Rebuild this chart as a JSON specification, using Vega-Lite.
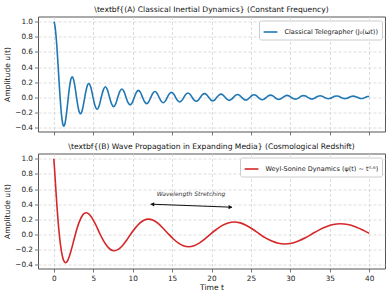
{
  "$schema": "https://vega.github.io/schema/vega-lite/v6.json",
  "padding": {"left": 3, "top": 4.5, "right": 0, "bottom": 0},
  "spacing": 5,
  "config": {
    "font": "DejaVu Sans",
    "view": {"stroke": "#555555", "strokeWidth": 1},
    "axis": {
      "domain": false,
      "tickColor": "#555555",
      "tickSize": 3.5,
      "tickWidth": 0.8,
      "labelFontSize": 7.3,
      "labelColor": "#222222",
      "labelPadding": 2,
      "titleFontSize": 7.6,
      "titleFontWeight": "normal",
      "titleColor": "#111111",
      "gridColor": "#d4d4d4",
      "gridDash": [3, 2],
      "gridWidth": 0.8
    },
    "title": {"fontSize": 7.6, "fontWeight": "normal", "color": "#111111", "offset": 3, "anchor": "middle"},
    "legend": {
      "orient": "top-right",
      "offset": 3.5,
      "padding": 3.5,
      "strokeColor": "#cccccc",
      "fillColor": "#ffffff",
      "cornerRadius": 2,
      "labelFontSize": 6.5,
      "labelColor": "#222222",
      "symbolType": "stroke",
      "symbolSize": 190,
      "symbolStrokeWidth": 1.6,
      "labelOffset": 6
    }
  },
  "resolve": {"scale": {"color": "independent"}, "legend": {"color": "independent"}},
  "datasets": {
    "classical": [
      {"t": 0, "u": 1.0}, {"t": 0.083, "u": 0.981}, {"t": 0.167, "u": 0.932}, {"t": 0.333, "u": 0.755},
      {"t": 0.5, "u": 0.502}, {"t": 0.667, "u": 0.218}, {"t": 0.802, "u": 0}, {"t": 0.917, "u": -0.158},
      {"t": 1.0, "u": -0.25}, {"t": 1.083, "u": -0.318}, {"t": 1.167, "u": -0.363}, {"t": 1.277, "u": -0.383},
      {"t": 1.417, "u": -0.349}, {"t": 1.5, "u": -0.302}, {"t": 1.667, "u": -0.166}, {"t": 1.84, "u": 0},
      {"t": 2.0, "u": 0.139}, {"t": 2.167, "u": 0.239}, {"t": 2.339, "u": 0.273}, {"t": 2.5, "u": 0.241},
      {"t": 2.667, "u": 0.154}, {"t": 2.885, "u": 0}, {"t": 3.0, "u": -0.08}, {"t": 3.167, "u": -0.171},
      {"t": 3.391, "u": -0.218}, {"t": 3.5, "u": -0.206}, {"t": 3.667, "u": -0.148}, {"t": 3.833, "u": -0.058},
      {"t": 3.931, "u": 0}, {"t": 4.0, "u": 0.041}, {"t": 4.167, "u": 0.124}, {"t": 4.333, "u": 0.174},
      {"t": 4.441, "u": 0.183}, {"t": 4.5, "u": 0.18}, {"t": 4.667, "u": 0.142}, {"t": 4.833, "u": 0.072},
      {"t": 4.977, "u": 0},
      {"t": 5.234, "u": -0.1117}, {"t": 5.49, "u": -0.158}, {"t": 5.757, "u": -0.1117}, {"t": 6.024, "u": 0},
      {"t": 6.282, "u": 0.0983}, {"t": 6.539, "u": 0.139}, {"t": 6.805, "u": 0.0983}, {"t": 7.071, "u": 0},
      {"t": 7.329, "u": -0.087}, {"t": 7.587, "u": -0.123}, {"t": 7.852, "u": -0.087}, {"t": 8.117, "u": 0},
      {"t": 8.376, "u": 0.0785}, {"t": 8.635, "u": 0.111}, {"t": 8.9, "u": 0.0785}, {"t": 9.164, "u": 0},
      {"t": 9.423, "u": -0.0707}, {"t": 9.682, "u": -0.1}, {"t": 9.947, "u": -0.0707}, {"t": 10.212, "u": 0},
      {"t": 10.471, "u": 0.0647}, {"t": 10.73, "u": 0.0915}, {"t": 10.995, "u": 0.0647}, {"t": 11.259, "u": 0},
      {"t": 11.518, "u": -0.0592}, {"t": 11.777, "u": -0.0838}, {"t": 12.042, "u": -0.0592}, {"t": 12.306, "u": 0},
      {"t": 12.566, "u": 0.0544}, {"t": 12.825, "u": 0.077}, {"t": 13.089, "u": 0.0544}, {"t": 13.353, "u": 0},
      {"t": 13.613, "u": -0.0502}, {"t": 13.872, "u": -0.071}, {"t": 14.136, "u": -0.0502}, {"t": 14.4, "u": 0},
      {"t": 14.66, "u": 0.0464}, {"t": 14.92, "u": 0.0656}, {"t": 15.184, "u": 0.0464}, {"t": 15.447, "u": 0},
      {"t": 15.707, "u": -0.0431}, {"t": 15.967, "u": -0.0609}, {"t": 16.231, "u": -0.0431}, {"t": 16.494, "u": 0},
      {"t": 16.754, "u": 0.04}, {"t": 17.014, "u": 0.0566}, {"t": 17.278, "u": 0.04}, {"t": 17.541, "u": 0},
      {"t": 17.802, "u": -0.0372}, {"t": 18.062, "u": -0.0526}, {"t": 18.326, "u": -0.0372}, {"t": 18.589, "u": 0},
      {"t": 18.849, "u": 0.0347}, {"t": 19.109, "u": 0.0491}, {"t": 19.373, "u": 0.0347}, {"t": 19.636, "u": 0},
      {"t": 19.897, "u": -0.0324}, {"t": 20.157, "u": -0.0458}, {"t": 20.42, "u": -0.0324}, {"t": 20.683, "u": 0},
      {"t": 20.944, "u": 0.0303}, {"t": 21.204, "u": 0.0428}, {"t": 21.467, "u": 0.0303}, {"t": 21.73, "u": 0},
      {"t": 21.991, "u": -0.0284}, {"t": 22.251, "u": -0.0401}, {"t": 22.514, "u": -0.0284}, {"t": 22.777, "u": 0},
      {"t": 23.038, "u": 0.0266}, {"t": 23.299, "u": 0.0376}, {"t": 23.562, "u": 0.0266}, {"t": 23.825, "u": 0},
      {"t": 24.086, "u": -0.025}, {"t": 24.346, "u": -0.0353}, {"t": 24.609, "u": -0.025}, {"t": 24.872, "u": 0},
      {"t": 25.133, "u": 0.0234}, {"t": 25.393, "u": 0.0331}, {"t": 25.656, "u": 0.0234}, {"t": 25.919, "u": 0},
      {"t": 26.18, "u": -0.022}, {"t": 26.441, "u": -0.0311}, {"t": 26.704, "u": -0.022}, {"t": 26.966, "u": 0},
      {"t": 27.227, "u": 0.0207}, {"t": 27.488, "u": 0.0293}, {"t": 27.751, "u": 0.0207}, {"t": 28.014, "u": 0},
      {"t": 28.275, "u": -0.0194}, {"t": 28.535, "u": -0.0275}, {"t": 28.798, "u": -0.0194}, {"t": 29.061, "u": 0},
      {"t": 29.322, "u": 0.0183}, {"t": 29.583, "u": 0.0259}, {"t": 29.846, "u": 0.0183}, {"t": 30.108, "u": 0},
      {"t": 30.369, "u": -0.0173}, {"t": 30.63, "u": -0.0244}, {"t": 30.893, "u": -0.0173}, {"t": 31.155, "u": 0},
      {"t": 31.416, "u": 0.0163}, {"t": 31.677, "u": 0.0231}, {"t": 31.94, "u": 0.0163}, {"t": 32.203, "u": 0},
      {"t": 32.464, "u": -0.0153}, {"t": 32.725, "u": -0.0217}, {"t": 32.988, "u": -0.0153}, {"t": 33.25, "u": 0},
      {"t": 33.511, "u": 0.0145}, {"t": 33.772, "u": 0.0205}, {"t": 34.035, "u": 0.0145}, {"t": 34.297, "u": 0},
      {"t": 34.558, "u": -0.0137}, {"t": 34.819, "u": -0.0194}, {"t": 35.082, "u": -0.0137}, {"t": 35.344, "u": 0},
      {"t": 35.606, "u": 0.0129}, {"t": 35.867, "u": 0.0183}, {"t": 36.13, "u": 0.0129}, {"t": 36.392, "u": 0},
      {"t": 36.653, "u": -0.0122}, {"t": 36.914, "u": -0.0173}, {"t": 37.177, "u": -0.0122}, {"t": 37.439, "u": 0},
      {"t": 37.7, "u": 0.0116}, {"t": 37.961, "u": 0.0164}, {"t": 38.224, "u": 0.0116}, {"t": 38.486, "u": 0},
      {"t": 38.747, "u": -0.011}, {"t": 39.008, "u": -0.0155}, {"t": 39.271, "u": -0.011}, {"t": 39.533, "u": 0},
      {"t": 39.795, "u": 0.0104}, {"t": 40.0, "u": 0.0145}
    ],
    "weyl": [
      {"t": 0, "u": 1.0}, {"t": 0.016, "u": 0.984}, {"t": 0.051, "u": 0.937}, {"t": 0.099, "u": 0.862},
      {"t": 0.16, "u": 0.763}, {"t": 0.233, "u": 0.643}, {"t": 0.315, "u": 0.511}, {"t": 0.407, "u": 0.37},
      {"t": 0.509, "u": 0.228}, {"t": 0.619, "u": 0.09}, {"t": 0.692, "u": 0.01}, {"t": 0.738, "u": -0.037},
      {"t": 0.865, "u": -0.148}, {"t": 1.0, "u": -0.24}, {"t": 1.143, "u": -0.308}, {"t": 1.293, "u": -0.353},
      {"t": 1.504, "u": -0.373}, {"t": 1.615, "u": -0.367}, {"t": 1.787, "u": -0.339}, {"t": 1.966, "u": -0.292},
      {"t": 2.151, "u": -0.228}, {"t": 2.343, "u": -0.157}, {"t": 2.541, "u": -0.077}, {"t": 2.763, "u": 0.01},
      {"t": 2.957, "u": 0.082}, {"t": 3.175, "u": 0.15}, {"t": 3.398, "u": 0.207}, {"t": 3.628, "u": 0.25},
      {"t": 3.863, "u": 0.278}, {"t": 4.121, "u": 0.286}, {"t": 4.352, "u": 0.278}, {"t": 4.605, "u": 0.254},
      {"t": 4.864, "u": 0.216}, {"t": 5.128, "u": 0.167}, {"t": 5.398, "u": 0.112}, {"t": 5.673, "u": 0.048},
      {"t": 5.846, "u": 0.01}, {"t": 6.28, "u": -0.077}, {"t": 6.725, "u": -0.149}, {"t": 7.183, "u": -0.198},
      {"t": 7.654, "u": -0.214}, {"t": 8.169, "u": -0.197}, {"t": 8.697, "u": -0.148}, {"t": 9.236, "u": -0.075},
      {"t": 9.79, "u": 0.01}, {"t": 10.326, "u": 0.084}, {"t": 10.873, "u": 0.147}, {"t": 11.431, "u": 0.188},
      {"t": 12.001, "u": 0.203}, {"t": 12.61, "u": 0.188}, {"t": 13.231, "u": 0.146}, {"t": 13.863, "u": 0.083},
      {"t": 14.508, "u": 0.01}, {"t": 15.137, "u": -0.056}, {"t": 15.777, "u": -0.111}, {"t": 16.427, "u": -0.148},
      {"t": 17.087, "u": -0.161}, {"t": 17.784, "u": -0.148}, {"t": 18.493, "u": -0.11}, {"t": 19.212, "u": -0.055},
      {"t": 19.942, "u": 0.01}, {"t": 20.657, "u": 0.069}, {"t": 21.382, "u": 0.12}, {"t": 22.119, "u": 0.153},
      {"t": 22.864, "u": 0.165}, {"t": 23.644, "u": 0.153}, {"t": 24.435, "u": 0.119}, {"t": 25.236, "u": 0.069},
      {"t": 26.048, "u": 0.01}, {"t": 26.845, "u": -0.045}, {"t": 27.651, "u": -0.086}, {"t": 28.467, "u": -0.115},
      {"t": 29.293, "u": -0.125}, {"t": 30.151, "u": -0.115}, {"t": 31.02, "u": -0.085}, {"t": 31.898, "u": -0.044},
      {"t": 32.787, "u": 0.01}, {"t": 33.662, "u": 0.061}, {"t": 34.546, "u": 0.103}, {"t": 35.44, "u": 0.132},
      {"t": 36.342, "u": 0.142}, {"t": 37.275, "u": 0.132}, {"t": 38.22, "u": 0.103}, {"t": 39.172, "u": 0.06},
      {"t": 40.0, "u": 0.015}
    ],
    "arrow": [{"t": 12.3, "u": 0.4, "t2": 22.6, "u2": 0.36}],
    "heads": [{"t": 12.5, "u": 0.399, "dir": "left"}, {"t": 22.4, "u": 0.361, "dir": "right"}],
    "note": [{"t": 17.4, "u": 0.53, "label": "Wavelength Stretching"}]
  },
  "vconcat": [
    {
      "width": 347,
      "height": 115,
      "title": "\\textbf{(A) Classical Inertial Dynamics} (Constant Frequency)",
      "data": {"name": "classical"},
      "mark": {"type": "line", "strokeWidth": 1.6, "interpolate": "monotone"},
      "encoding": {
        "x": {"field": "t", "type": "quantitative",
              "scale": {"domain": [-2, 42], "nice": false, "zero": false},
              "axis": {"values": [0, 5, 10, 15, 20, 25, 30, 35, 40], "labels": false, "title": null}},
        "y": {"field": "u", "type": "quantitative",
              "scale": {"domain": [-0.452, 1.069], "nice": false, "zero": false},
              "axis": {"values": [-0.4, -0.2, 0, 0.2, 0.4, 0.6, 0.8, 1.0], "format": ".1f", "title": "Amplitude u(t)", "titlePadding": 3}},
        "color": {"datum": "Classical Telegrapher (J₀(ωt))", "type": "nominal",
                  "scale": {"range": ["#1f77b4"]}, "legend": {"title": null}}
      }
    },
    {
      "width": 347,
      "height": 115,
      "title": "\\textbf{(B) Wave Propagation in Expanding Media} (Cosmological Redshift)",
      "encoding": {
        "x": {"field": "t", "type": "quantitative",
              "scale": {"domain": [-2, 42], "nice": false, "zero": false},
              "axis": {"values": [0, 5, 10, 15, 20, 25, 30, 35, 40], "format": "d", "title": "Time t", "titlePadding": 2}},
        "y": {"field": "u", "type": "quantitative",
              "scale": {"domain": [-0.449, 1.069], "nice": false, "zero": false},
              "axis": {"values": [-0.4, -0.2, 0, 0.2, 0.4, 0.6, 0.8, 1.0], "format": ".1f", "title": "Amplitude u(t)", "titlePadding": 3}}
      },
      "layer": [
        {
          "data": {"name": "weyl"},
          "mark": {"type": "line", "strokeWidth": 1.6, "interpolate": "monotone"},
          "encoding": {
            "color": {"datum": "Weyl-Sonine Dynamics (ψ(t) ∼ t⁰·⁶)", "type": "nominal",
                      "scale": {"range": ["#d62728"]}, "legend": {"title": null}}
          }
        },
        {
          "data": {"name": "arrow"},
          "mark": {"type": "rule", "color": "#111111", "strokeWidth": 1},
          "encoding": {
            "x2": {"field": "t2"},
            "y2": {"field": "u2"}
          }
        },
        {
          "data": {"name": "heads"},
          "mark": {"type": "point", "filled": true, "color": "#111111", "size": 18, "opacity": 1, "angle": 2},
          "encoding": {
            "shape": {"field": "dir", "type": "nominal",
                      "scale": {"domain": ["left", "right"], "range": ["triangle-left", "triangle-right"]}, "legend": null}
          }
        },
        {
          "data": {"name": "note"},
          "mark": {"type": "text", "fontSize": 6, "fontStyle": "italic", "color": "#333333"},
          "encoding": {
            "text": {"field": "label"}
          }
        }
      ]
    }
  ]
}
